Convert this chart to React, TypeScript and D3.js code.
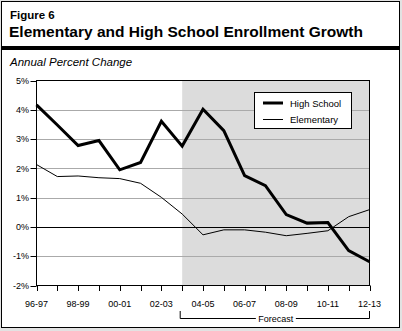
import React from "react";
import * as d3 from "d3";

const years = ["96-97","97-98","98-99","99-00","00-01","01-02","02-03","03-04","04-05","05-06","06-07","07-08","08-09","09-10","10-11","11-12","12-13"];
const highSchool = [4.17, 3.48, 2.78, 2.95, 1.95, 2.2, 3.61, 2.76, 4.02, 3.29, 1.75, 1.41, 0.42, 0.13, 0.15, -0.81, -1.19];
const elementary = [2.13, 1.72, 1.74, 1.68, 1.65, 1.49, 1.01, 0.44, -0.27, -0.1, -0.1, -0.18, -0.3, -0.22, -0.13, 0.35, 0.59];
const yTicks = [-2, -1, 0, 1, 2, 3, 4, 5];
const forecastStart = 7;

const W = 402, H = 331;
const left = 36.5, right = 369.5, top = 80.5, bottom = 285.5;
const font = "'Liberation Sans', Arial, Helvetica, sans-serif";

export default function App() {
  const x = d3.scalePoint<number>().domain(years.map((_, i) => i)).range([left, right]);
  const y = d3.scaleLinear().domain([-2, 5]).range([bottom, top]);
  const line = d3.line<number>().x((_, i) => x(i)!).y((d) => y(d));
  const fx = x(forecastStart)!;
  const midF = (fx + right) / 2;
  return (
    <svg width={W} height={H} style={{ position: "absolute", left: 0, top: 0, background: "#e2e2e2" }} fontFamily={font}>
      <rect x={1.5} y={1.5} width={398} height={326} fill="#fff" stroke="#000" strokeWidth={1} />
      <text x={10} y={19} fontSize={11.5} fontWeight="bold">Figure 6</text>
      <text x={9} y={37} fontSize={15.5} fontWeight="bold">Elementary and High School Enrollment Growth</text>
      <rect x={1.5} y={46} width={398} height={4} fill="#000" />
      <text x={10} y={66} fontSize={11.5} fontStyle="italic">Annual Percent Change</text>
      <rect x={fx} y={top} width={right - fx} height={bottom - top} fill="#dcdcdc" />
      {yTicks.filter((t) => t !== 0 && t !== 5 && t !== -2).map((t) => (
        <line key={t} x1={left} x2={right} y1={Math.round(y(t)) + 0.5} y2={Math.round(y(t)) + 0.5} stroke="#aaa" strokeWidth={1} />
      ))}
      <line x1={left} x2={right} y1={Math.round(y(0)) + 0.5} y2={Math.round(y(0)) + 0.5} stroke="#000" strokeWidth={1} />
      <rect x={left} y={top} width={right - left} height={bottom - top} fill="none" stroke="#000" strokeWidth={1} />
      {yTicks.map((t) => (
        <g key={t}>
          <line x1={left - 6} x2={left} y1={Math.round(y(t)) + 0.5} y2={Math.round(y(t)) + 0.5} stroke="#000" />
          <text x={29} y={y(t) + 3.2} fontSize={9} textAnchor="end">{t}%</text>
        </g>
      ))}
      {years.map((yr, i) => (
        <g key={yr}>
          <line x1={Math.round(x(i)!) + 0.5} x2={Math.round(x(i)!) + 0.5} y1={bottom} y2={bottom + 5.5} stroke="#000" />
          {i % 2 === 0 && (
            <text x={x(i)!} y={307} fontSize={9} textAnchor="middle">{yr}</text>
          )}
        </g>
      ))}
      <path d={line(elementary) || ""} fill="none" stroke="#000" strokeWidth={1} />
      <path d={line(highSchool) || ""} fill="none" stroke="#000" strokeWidth={3} strokeLinejoin="miter" />
      <path d={`M${fx - 2},311 V318.5 H${midF - 20} M${midF + 20},318.5 H${right} V311`} fill="none" stroke="#000" strokeWidth={1} />
      <text x={midF} y={321.5} fontSize={9} textAnchor="middle">Forecast</text>
      <rect x={254.5} y={92.5} width={97} height={36} fill="#fff" stroke="#000" strokeWidth={1} />
      <line x1={263} x2={283} y1={103} y2={103} stroke="#000" strokeWidth={3} />
      <text x={290} y={106.5} fontSize={9.5}>High School</text>
      <line x1={263} x2={283} y1={119.5} y2={119.5} stroke="#000" strokeWidth={1} />
      <text x={290} y={123} fontSize={9.5}>Elementary</text>
    </svg>
  );
}
